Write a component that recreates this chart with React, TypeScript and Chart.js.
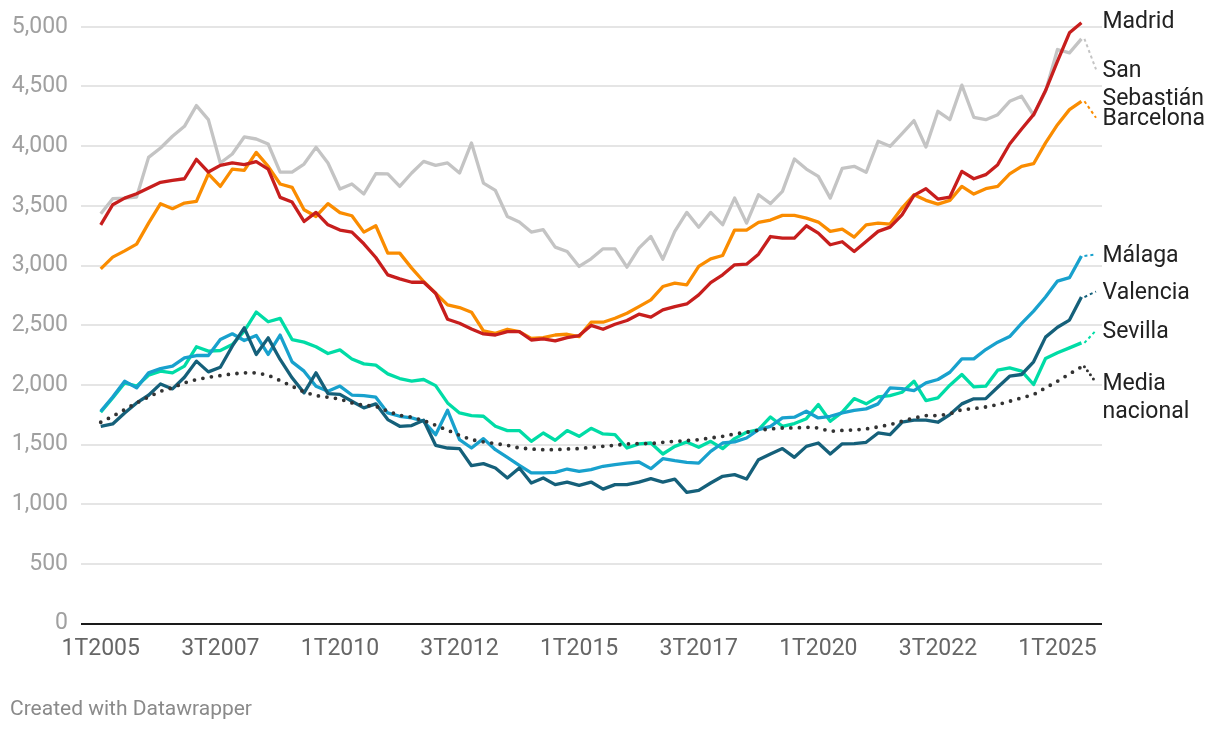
import React, { useEffect, useRef } from "react";
import { Chart, registerables } from "chart.js";

Chart.register(...registerables);

const quarters = [
  "1T2005","2T2005","3T2005","4T2005","1T2006","2T2006","3T2006","4T2006",
  "1T2007","2T2007","3T2007","4T2007","1T2008","2T2008","3T2008","4T2008",
  "1T2009","2T2009","3T2009","4T2009","1T2010","2T2010","3T2010","4T2010",
  "1T2011","2T2011","3T2011","4T2011","1T2012","2T2012","3T2012","4T2012",
  "1T2013","2T2013","3T2013","4T2013","1T2014","2T2014","3T2014","4T2014",
  "1T2015","2T2015","3T2015","4T2015","1T2016","2T2016","3T2016","4T2016",
  "1T2017","2T2017","3T2017","4T2017","1T2018","2T2018","3T2018","4T2018",
  "1T2019","2T2019","3T2019","4T2019","1T2020","2T2020","3T2020","4T2020",
  "1T2021","2T2021","3T2021","4T2021","1T2022","2T2022","3T2022","4T2022",
  "1T2023","2T2023","3T2023","4T2023","1T2024","2T2024","3T2024","4T2024",
  "1T2025","2T2025","3T2025",
];

const tickLabels = ["1T2005","3T2007","1T2010","3T2012","1T2015","3T2017","1T2020","3T2022","1T2025"];

const madrid = [
  3341,3509,3565,3601,3649,3697,3713,3727,3890,3783,3839,3859,3845,3870,3808,3571,
  3532,3369,3445,3341,3297,3280,3182,3067,2922,2888,2860,2860,2768,2550,2516,2469,
  2427,2418,2446,2446,2376,2385,2368,2396,2413,2498,2466,2508,2539,2592,2567,2628,
  2656,2678,2754,2857,2922,3006,3011,3095,3243,3229,3229,3333,3271,3174,3199,3118,
  3202,3286,3322,3425,3588,3644,3557,3574,3789,3727,3761,3845,4018,4144,4264,4466,
  4712,4950,5034,
];

const sanSebastian = [
  3434,3560,3565,3574,3906,3985,4083,4166,4340,4222,3859,3934,4077,4060,4018,3783,
  3783,3850,3990,3859,3641,3683,3599,3769,3767,3663,3775,3873,3839,3859,3775,4027,
  3691,3629,3411,3364,3280,3300,3154,3118,2992,3056,3140,3140,2986,3146,3244,3053,
  3286,3445,3320,3445,3342,3565,3355,3593,3518,3621,3892,3808,3747,3565,3814,3831,
  3781,4041,3999,4105,4214,3993,4292,4222,4511,4242,4222,4264,4376,4418,4259,4460,
  4810,4782,4899,
];

const barcelona = [
  2972,3070,3123,3179,3355,3518,3476,3523,3537,3767,3663,3808,3797,3948,3831,3683,
  3655,3467,3411,3518,3443,3417,3280,3333,3104,3104,2978,2866,2768,2670,2648,2609,
  2452,2432,2466,2446,2390,2396,2418,2424,2404,2525,2525,2558,2600,2656,2712,2824,
  2852,2838,2992,3056,3084,3297,3297,3361,3381,3420,3420,3397,3364,3286,3305,3238,
  3341,3355,3347,3481,3593,3546,3515,3546,3663,3599,3644,3663,3767,3831,3853,4027,
  4180,4306,4376,
];

const malaga = [
  1779,1899,2031,1975,2101,2137,2157,2227,2246,2246,2380,2428,2372,2414,2255,2417,
  2193,2115,1989,1947,1990,1915,1910,1897,1765,1737,1723,1695,1583,1787,1541,1471,
  1550,1457,1393,1326,1262,1262,1267,1295,1276,1290,1318,1332,1345,1354,1298,1382,
  1365,1351,1345,1443,1513,1522,1555,1625,1653,1723,1729,1779,1723,1737,1765,1787,
  1799,1841,1975,1969,1952,2017,2045,2106,2218,2218,2296,2358,2405,2515,2618,2736,
  2870,2898,3080,
];

const valencia = [
  1653,1673,1765,1849,1913,2008,1966,2064,2199,2109,2148,2324,2478,2255,2394,2213,
  2059,1933,2101,1927,1921,1863,1807,1841,1709,1653,1659,1704,1494,1471,1466,1323,
  1340,1304,1220,1304,1178,1220,1164,1186,1158,1186,1127,1164,1164,1186,1214,1186,
  1211,1099,1116,1178,1234,1248,1211,1373,1421,1466,1393,1485,1513,1421,1506,1508,
  1519,1597,1583,1687,1704,1704,1687,1751,1841,1883,1885,1980,2073,2087,2193,2400,
  2483,2543,2736,
];

const sevilla = [
  1771,1891,2017,1989,2081,2115,2101,2157,2319,2283,2288,2338,2450,2610,2529,2557,
  2380,2358,2319,2263,2293,2217,2176,2165,2092,2053,2031,2045,1994,1849,1765,1743,
  1737,1653,1617,1617,1527,1597,1536,1617,1569,1636,1589,1583,1471,1505,1513,1421,
  1485,1522,1477,1527,1466,1550,1603,1625,1731,1653,1676,1717,1835,1695,1772,1885,
  1841,1899,1910,1938,2031,1869,1891,1997,2087,1983,1989,2123,2143,2115,2003,2221,
  2269,2310,2352,
];

const mediaNacional = [
  1687,1737,1793,1849,1899,1947,1975,2017,2045,2064,2078,2092,2101,2101,2081,2036,
  1989,1941,1910,1897,1881,1849,1829,1821,1779,1745,1729,1701,1662,1620,1578,1541,
  1522,1508,1494,1471,1463,1457,1457,1463,1466,1477,1485,1494,1505,1508,1508,1519,
  1527,1533,1541,1555,1569,1589,1603,1620,1631,1639,1639,1645,1639,1611,1619,1622,
  1631,1648,1667,1695,1723,1743,1743,1757,1793,1801,1815,1835,1863,1891,1919,1975,
  2031,2092,2151,
];

type SeriesStyle = {
  color: string;
  lines: string[];
  labelDy: number;
  connector: boolean;
  dotted?: boolean;
};

// drawing order: first dataset is painted on top
const seriesList: { name: string; values: number[]; style: SeriesStyle }[] = [
  { name: "Media nacional", values: mediaNacional, style: { color: "#333333", lines: ["Media", "nacional"], labelDy: 17, connector: true, dotted: true } },
  { name: "Madrid", values: madrid, style: { color: "#c71e1d", lines: ["Madrid"], labelDy: 0, connector: false } },
  { name: "Barcelona", values: barcelona, style: { color: "#fa8c00", lines: ["Barcelona"], labelDy: 18, connector: true } },
  { name: "San Sebastián", values: sanSebastian, style: { color: "#c4c4c4", lines: ["San", "Sebastián"], labelDy: 32, connector: true } },
  { name: "Valencia", values: valencia, style: { color: "#15607a", lines: ["Valencia"], labelDy: -4, connector: true } },
  { name: "Málaga", values: malaga, style: { color: "#18a1cd", lines: ["Málaga"], labelDy: 0, connector: true } },
  { name: "Sevilla", values: sevilla, style: { color: "#00dca6", lines: ["Sevilla"], labelDy: -11, connector: true } },
];

const FONT = "Roboto";

const endLabelPlugin = {
  id: "endLabels",
  afterDatasetsDraw(chart: any) {
    const { ctx, chartArea } = chart;
    ctx.save();
    chart.data.datasets.forEach((ds: any, di: number) => {
      const meta = chart.getDatasetMeta(di);
      const pt = meta.data[meta.data.length - 1];
      const st: SeriesStyle = ds.seriesStyle;
      const cy = pt.y + st.labelDy;
      if (st.connector) {
        ctx.beginPath();
        ctx.setLineDash(st.dotted ? [0, 5] : [3, 3]);
        ctx.lineCap = st.dotted ? "round" : "butt";
        ctx.lineWidth = st.dotted ? 3 : 2;
        ctx.strokeStyle = st.color;
        ctx.moveTo(pt.x + 3, pt.y);
        ctx.lineTo(chartArea.right - 6, cy - 1.5);
        ctx.stroke();
      }
      ctx.setLineDash([]);
      ctx.fillStyle = "#222222";
      ctx.font = `23px ${FONT}`;
      ctx.textBaseline = "middle";
      ctx.textAlign = "left";
      st.lines.forEach((t, k) => ctx.fillText(t, chartArea.right + 0.5, cy + k * 28));
    });
    ctx.restore();
  },
};

export default function App() {
  const ref = useRef<HTMLCanvasElement>(null);

  useEffect(() => {
    const canvas = ref.current;
    if (!canvas) return;
    const datasets = seriesList.map((s) => ({
      label: s.name,
      seriesStyle: s.style,
      data: s.values.map((v, i) => ({ x: i, y: v })),
      borderColor: s.style.color,
      backgroundColor: s.style.color,
      borderWidth: s.style.dotted ? 3.8 : 3.3,
      borderDash: s.style.dotted ? [0, 8.6] : [],
      borderCapStyle: s.style.dotted ? "round" : "butt",
      borderJoinStyle: "round",
      pointRadius: 0,
      pointHoverRadius: 0,
      tension: 0,
      fill: false,
      clip: false,
    }));

    const chart = new Chart(canvas, {
      type: "line",
      data: { datasets } as any,
      options: {
        animation: false,
        responsive: false,
        devicePixelRatio: 1,
        events: [],
        layout: { padding: { left: 0, right: 118, top: 25.7, bottom: 62.8 } },
        plugins: {
          legend: { display: false },
          tooltip: { enabled: false },
        },
        scales: {
          x: {
            type: "linear",
            min: -1.65,
            max: 83.72,
            grid: { display: false, drawTicks: false },
            border: { display: false },
            afterBuildTicks: (scale: any) => {
              scale.ticks = tickLabels.map((l) => ({ value: quarters.indexOf(l) }));
            },
            ticks: {
              autoSkip: false,
              maxRotation: 0,
              padding: 12,
              color: "#666666",
              font: { family: FONT, size: 23 },
              callback: (v: any) => quarters[v] ?? "",
            },
          },
          y: {
            min: 0,
            max: 5000,
            afterFit: (scale: any) => {
              scale.width = 81;
            },
            grid: {
              drawTicks: false,
              lineWidth: 2,
              color: (c: any) => (c.tick && c.tick.value === 0 ? "#1a1a1a" : "#e5e5e5"),
            },
            border: { display: false },
            ticks: {
              stepSize: 500,
              padding: 13,
              color: "#a0a0a0",
              font: { family: FONT, size: 23 },
              callback: (v: any) => Number(v).toLocaleString("en-US"),
            },
          },
        },
      } as any,
      plugins: [endLabelPlugin],
    });
    return () => chart.destroy();
  }, []);

  return (
    <div style={{ position: "absolute", left: 0, top: 0, width: 1220, height: 738, background: "#ffffff" }}>
      <canvas ref={ref} width={1220} height={738} style={{ width: 1220, height: 738, display: "block" }} />
      <div
        style={{
          position: "absolute",
          left: 10,
          top: 695.8,
          fontFamily: FONT,
          fontSize: 21,
          lineHeight: "24px",
          color: "#8a8a8a",
          whiteSpace: "nowrap",
        }}
      >
        Created with Datawrapper
      </div>
    </div>
  );
}
